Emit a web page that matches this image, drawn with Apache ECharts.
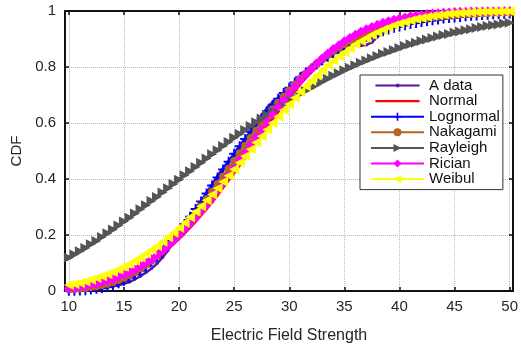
<!DOCTYPE html>
<html>
<head>
<meta charset="utf-8">
<script src="https://cdn.jsdelivr.net/npm/echarts@6/dist/echarts.min.js"></script>
<style>
  html, body { margin: 0; padding: 0; background: #fff; }
  #chart { width: 521px; height: 350px; }
</style>
</head>
<body>
<div id="chart"></div>
<script>
// field strength grid for the fitted curves
const xs = [
  10, 10.5, 11, 11.5, 12, 12.5, 13, 13.5, 14, 14.5,
  15, 15.5, 16, 16.5, 17, 17.5, 18, 18.5, 19, 19.5,
  20, 20.5, 21, 21.5, 22, 22.5, 23, 23.5, 24, 24.5,
  25, 25.5, 26, 26.5, 27, 27.5, 28, 28.5, 29, 29.5,
  30, 30.5, 31, 31.5, 32, 32.5, 33, 33.5, 34, 34.5,
  35, 35.5, 36, 36.5, 37, 37.5, 38, 38.5, 39, 39.5,
  40, 40.5, 41, 41.5, 42, 42.5, 43, 43.5, 44, 44.5,
  45, 45.5, 46, 46.5, 47, 47.5, 48, 48.5, 49, 49.5, 50
]

const normalCdf = [
  0.011, 0.014, 0.016, 0.019, 0.023, 0.027, 0.031, 0.037, 0.043, 0.049,
  0.057, 0.065, 0.074, 0.085, 0.096, 0.108, 0.122, 0.136, 0.152, 0.169,
  0.187, 0.206, 0.227, 0.248, 0.271, 0.294, 0.318, 0.343, 0.370, 0.396,
  0.423, 0.450, 0.478, 0.506, 0.533, 0.561, 0.588, 0.615, 0.641, 0.667,
  0.691, 0.715, 0.739, 0.761, 0.782, 0.801, 0.820, 0.838, 0.855, 0.870,
  0.884, 0.897, 0.909, 0.920, 0.930, 0.938, 0.946, 0.954, 0.960, 0.966,
  0.971, 0.975, 0.979, 0.982, 0.985, 0.987, 0.989, 0.991, 0.993, 0.994,
  0.995, 0.996, 0.997, 0.997, 0.998, 0.998, 0.999, 0.999, 0.999, 0.999, 1.000
]

const lognormalCdf = [
  0.001, 0.001, 0.002, 0.003, 0.005, 0.008, 0.011, 0.016, 0.021, 0.028,
  0.037, 0.047, 0.059, 0.072, 0.088, 0.105, 0.123, 0.144, 0.165, 0.189,
  0.213, 0.239, 0.265, 0.293, 0.320, 0.348, 0.377, 0.405, 0.434, 0.462,
  0.490, 0.517, 0.543, 0.569, 0.594, 0.619, 0.642, 0.665, 0.687, 0.707,
  0.726, 0.745, 0.763, 0.780, 0.795, 0.810, 0.824, 0.837, 0.849, 0.861,
  0.872, 0.882, 0.891, 0.900, 0.908, 0.915, 0.922, 0.928, 0.934, 0.940,
  0.945, 0.949, 0.954, 0.957, 0.961, 0.964, 0.967, 0.970, 0.973, 0.975,
  0.977, 0.979, 0.981, 0.983, 0.984, 0.986, 0.987, 0.988, 0.989, 0.990, 0.991
]

const nakagamiCdf = [
  0.006, 0.007, 0.009, 0.011, 0.014, 0.017, 0.021, 0.026, 0.032, 0.039,
  0.047, 0.057, 0.068, 0.080, 0.094, 0.109, 0.126, 0.144, 0.163, 0.184,
  0.206, 0.228, 0.252, 0.277, 0.302, 0.328, 0.355, 0.382, 0.409, 0.437,
  0.464, 0.492, 0.519, 0.546, 0.572, 0.598, 0.623, 0.648, 0.672, 0.694,
  0.716, 0.737, 0.758, 0.777, 0.794, 0.812, 0.828, 0.843, 0.857, 0.870,
  0.882, 0.893, 0.903, 0.913, 0.921, 0.929, 0.936, 0.943, 0.949, 0.954,
  0.959, 0.963, 0.967, 0.971, 0.974, 0.976, 0.979, 0.981, 0.983, 0.985,
  0.986, 0.988, 0.989, 0.990, 0.991, 0.992, 0.993, 0.994, 0.994, 0.995, 0.995
]

const rayleighCdf = [
  0.119, 0.130, 0.142, 0.154, 0.167, 0.179, 0.193, 0.206, 0.220, 0.234,
  0.248, 0.262, 0.277, 0.292, 0.306, 0.321, 0.336, 0.352, 0.367, 0.382,
  0.397, 0.413, 0.428, 0.443, 0.458, 0.473, 0.488, 0.503, 0.518, 0.532,
  0.547, 0.561, 0.575, 0.589, 0.603, 0.616, 0.629, 0.642, 0.655, 0.668,
  0.680, 0.692, 0.704, 0.715, 0.726, 0.737, 0.748, 0.758, 0.769, 0.778,
  0.788, 0.797, 0.806, 0.815, 0.823, 0.831, 0.839, 0.847, 0.854, 0.861,
  0.868, 0.875, 0.881, 0.887, 0.893, 0.898, 0.904, 0.909, 0.914, 0.918,
  0.923, 0.927, 0.931, 0.935, 0.939, 0.943, 0.946, 0.949, 0.952, 0.955, 0.958
]

const ricianCdf = [
  0.010, 0.012, 0.015, 0.018, 0.022, 0.026, 0.031, 0.037, 0.043, 0.050,
  0.058, 0.067, 0.077, 0.088, 0.100, 0.113, 0.128, 0.144, 0.161, 0.179,
  0.198, 0.218, 0.240, 0.261, 0.285, 0.309, 0.333, 0.359, 0.385, 0.412,
  0.439, 0.467, 0.494, 0.522, 0.550, 0.577, 0.604, 0.630, 0.657, 0.682,
  0.706, 0.729, 0.752, 0.773, 0.794, 0.813, 0.831, 0.848, 0.864, 0.878,
  0.892, 0.904, 0.915, 0.926, 0.935, 0.943, 0.951, 0.958, 0.963, 0.969,
  0.973, 0.977, 0.981, 0.984, 0.986, 0.989, 0.991, 0.992, 0.994, 0.995,
  0.996, 0.997, 0.997, 0.998, 0.998, 0.999, 0.999, 0.999, 0.999, 1.000, 1.000
]

const weibulCdf = [
  0.021, 0.025, 0.029, 0.034, 0.040, 0.046, 0.053, 0.060, 0.068, 0.077,
  0.087, 0.097, 0.108, 0.120, 0.133, 0.146, 0.161, 0.176, 0.192, 0.208,
  0.226, 0.244, 0.263, 0.283, 0.303, 0.324, 0.345, 0.367, 0.390, 0.412,
  0.435, 0.459, 0.482, 0.506, 0.530, 0.553, 0.577, 0.600, 0.623, 0.646,
  0.668, 0.690, 0.711, 0.731, 0.751, 0.770, 0.788, 0.806, 0.823, 0.839,
  0.853, 0.867, 0.881, 0.893, 0.904, 0.915, 0.924, 0.933, 0.941, 0.949,
  0.955, 0.961, 0.966, 0.971, 0.975, 0.979, 0.982, 0.985, 0.987, 0.990,
  0.991, 0.993, 0.994, 0.995, 0.996, 0.997, 0.998, 0.998, 0.998, 0.999, 0.999
]

// measured (empirical) CDF
const dataX = [
  10.5, 11.5, 12.5, 13.5, 14.5, 15.5, 16, 16.5, 17, 17.5,
  18, 18.5, 19, 19.5, 20, 20.5, 21, 21.5, 22, 22.5,
  23, 23.5, 24, 24.5, 25, 25.5, 26, 26.5, 27, 27.5,
  28, 28.5, 29, 29.5, 30, 31, 32, 33, 34, 35,
  35.5, 36, 36.5, 37, 37.5, 38, 38.5, 39, 40, 42,
  44, 46, 48, 50
]
const dataCdf = [
  0.000, 0.002, 0.005, 0.012, 0.020, 0.032, 0.042, 0.053, 0.066, 0.080,
  0.098, 0.120, 0.145, 0.175, 0.215, 0.240, 0.268, 0.292, 0.318, 0.352,
  0.380, 0.412, 0.438, 0.463, 0.482, 0.512, 0.540, 0.568, 0.600, 0.628,
  0.655, 0.675, 0.690, 0.706, 0.725, 0.762, 0.795, 0.822, 0.848, 0.866,
  0.874, 0.878, 0.876, 0.879, 0.888, 0.908, 0.922, 0.932, 0.945, 0.962,
  0.974, 0.982, 0.988, 0.992
]

const yTicks = [0, 0.2, 0.4, 0.6, 0.8, 1]

const chart = echarts.init(document.getElementById('chart'))

const pairs = (xv, yv) => xv.map((x, i) => [x, yv[i]])
const plusPath = 'path://M4,0H6V4H10V6H6V10H4V6H0V4H4Z'
// legend icons kept to a 53x12 box by two tiny corner specks
const dotLineIcon = 'path://M0,0H0.01V0.01H0Z M0,4.8H53V7.2H0Z M25,4H28.5V8H25Z M52.99,11.99H53V12H52.99Z'
const plainLineIcon = 'path://M0,0H0.01V0.01H0Z M0,4.6H53V7.4H0Z M52.99,11.99H53V12H52.99Z'
const font = 'Liberation Sans'
const textColor = '#262626'

const curve = (name, data, color, symbol, size, rotate) => ({
  name,
  type: 'line',
  data,
  symbol,
  symbolSize: size,
  symbolRotate: rotate || 0,
  showAllSymbol: true,
  clip: true,
  lineStyle: { color, width: 3 },
  itemStyle: { color, borderWidth: 0 },
  emphasis: { disabled: true }
})

const option = {
  animation: false,
  backgroundColor: '#fff',
  textStyle: { fontFamily: font, color: textColor },
  grid: { left: 65, right: 5, top: 11, bottom: 59, containLabel: false },
  legend: {
    orient: 'vertical',
    left: 360,
    top: 75,
    padding: [3, 3, 3, 10],
    itemWidth: 53,
    itemHeight: 10,
    itemGap: 0.6,
    backgroundColor: '#fff',
    borderColor: '#333',
    borderWidth: 1,
    borderRadius: 0,
    textStyle: { fontFamily: font, fontSize: 15, color: '#111' },
    data: [
      { name: 'A data', icon: dotLineIcon },
      { name: 'Normal', icon: plainLineIcon },
      'Lognormal', 'Nakagami', 'Rayleigh', 'Rician', 'Weibul'
    ]
  },
  xAxis: [
    {
      type: 'value',
      min: 9.65,
      max: 50.3,
      splitNumber: 8,
      minInterval: 5,
      maxInterval: 5,
      name: 'Electric Field Strength',
      nameLocation: 'middle',
      nameGap: 37,
      nameTextStyle: { fontFamily: font, fontSize: 16, color: textColor },
      axisLine: { onZero: false, lineStyle: { color: '#111', width: 2 } },
      axisTick: { inside: true, length: 4, lineStyle: { color: '#111', width: 1.5 } },
      axisLabel: {
        fontFamily: font, fontSize: 15, color: textColor, margin: 8,
        formatter: v => (Math.abs(v % 5) < 1e-6 ? String(v) : '')
      },
      splitLine: { show: true, lineStyle: { color: '#b8b8b8', type: 'dotted', width: 1 } }
    },
    {
      type: 'value',
      position: 'top',
      min: 9.65,
      max: 50.3,
      splitNumber: 8,
      minInterval: 5,
      maxInterval: 5,
      axisLine: { onZero: false, lineStyle: { color: '#111', width: 2 } },
      axisTick: { inside: true, length: 4, lineStyle: { color: '#111', width: 1.5 } },
      axisLabel: { show: false },
      splitLine: { show: false }
    }
  ],
  yAxis: [
    {
      type: 'value',
      min: yTicks[0],
      max: yTicks[yTicks.length - 1],
      interval: 0.2,
      name: 'CDF',
      nameLocation: 'middle',
      nameGap: 41,
      nameTextStyle: { fontFamily: font, fontSize: 15, color: textColor },
      axisLine: { onZero: false, lineStyle: { color: '#111', width: 2 } },
      axisTick: { inside: true, length: 4, lineStyle: { color: '#111', width: 1.5 } },
      axisLabel: { fontFamily: font, fontSize: 15, color: textColor, margin: 9 },
      splitLine: { show: true, lineStyle: { color: '#b8b8b8', type: 'dotted', width: 1 } }
    },
    {
      type: 'value',
      position: 'right',
      min: yTicks[0],
      max: yTicks[yTicks.length - 1],
      interval: 0.2,
      axisLine: { onZero: false, lineStyle: { color: '#111', width: 2 } },
      axisTick: { inside: true, length: 4, lineStyle: { color: '#111', width: 1.5 } },
      axisLabel: { show: false },
      splitLine: { show: false }
    }
  ],
  series: [
    {
      name: 'A data',
      type: 'line',
      data: pairs(dataX, dataCdf),
      symbol: 'circle',
      symbolSize: 3,
      showAllSymbol: true,
      lineStyle: { color: '#5a12a6', width: 2.5 },
      itemStyle: { color: '#5a12a6' },
      emphasis: { disabled: true }
    },
    {
      name: 'Normal',
      type: 'line',
      data: pairs(xs, normalCdf),
      symbol: 'none',
      lineStyle: { color: '#ff0000', width: 3 },
      itemStyle: { color: '#ff0000' },
      emphasis: { disabled: true }
    },
    curve('Lognormal', pairs(xs, lognormalCdf), '#0000ff', plusPath, 10),
    curve('Nakagami', pairs(xs, nakagamiCdf), '#b5651d', 'circle', 8),
    curve('Rayleigh', pairs(xs, rayleighCdf), '#555555', 'triangle', 10, -90),
    curve('Rician', pairs(xs, ricianCdf), '#ff00ff', 'diamond', 10),
    curve('Weibul', pairs(xs, weibulCdf), '#ffff00', 'triangle', 10, 90)
  ]
}

chart.setOption(option)
window.addEventListener('resize', () => chart.resize())
</script>
</body>
</html>
